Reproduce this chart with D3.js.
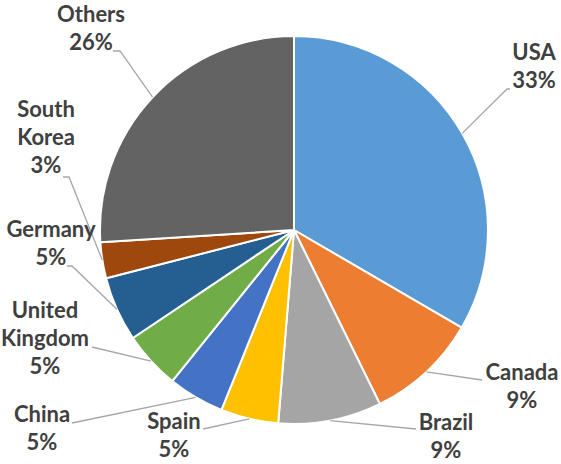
<!DOCTYPE html>
<html>
<head>
<meta charset="utf-8">
<script src="https://cdn.jsdelivr.net/npm/d3@7"></script>
<style>
  body { margin: 0; background: #fff; }
  text { font-family: Lato, "Open Sans", sans-serif; font-weight: bold; }
</style>
</head>
<body>
<div id="chart"></div>
<script>
let w = 561;
let h = 464;

// shares (percent)
const countries = ["USA", "Canada", "Brazil", "Spain", "China", "United Kingdom", "Germany", "South Korea", "Others"];
const shares = [33.4, 9.3, 8.6, 4.8, 4.7, 4.8, 5.4, 3.0, 26.0];
const colors = ["#5B9BD5", "#ED7D31", "#A5A5A5", "#FFC000", "#4472C4", "#70AD47", "#255E91", "#9E480E", "#636363"];

// where Excel put the labels: text centre, first baseline, leader points near text
const labelPos = [
    {x: 534, y: 60, lead: [[510, 89], [507, 89]]},
    {x: 522, y: 380, lead: [[482, 380]]},
    {x: 446, y: 430, lead: [[416, 429]]},
    {x: 174, y: 429, lead: [[203, 429]]},
    {x: 42, y: 422, lead: [[72, 423]]},
    {x: 45, y: 318, lead: [[92, 347]]},
    {x: 51, y: 237, lead: [[67, 266], [72, 266]]},
    {x: 46, y: 117, lead: [[63, 177], [69, 177]]},
    {x: 91, y: 22, lead: [[113, 51], [120, 51]]}
];

let cx = 294, cy = 230, r = 194;
let lineH = 28;

let svg = d3.select("#chart")
    .append("svg")
    .attr("width", w)
    .attr("height", h);

let data = countries.map((c, i) => ({name: c, value: shares[i], color: colors[i], pos: labelPos[i]}));

let pie = d3.pie().sort(null).value(d => d.value);
let arc = d3.arc().innerRadius(0).outerRadius(r);
let arcs = pie(data);

const g = svg.append("g").attr("transform", `translate(${cx},${cy})`);

g.selectAll("path")
    .data(arcs)
    .enter()
    .append("path")
    .attr("d", arc)
    .attr("fill", d => d.data.color)
    .attr("stroke", "#fff")
    .attr("stroke-width", 2)
    .attr("stroke-linejoin", "round");

// leader lines: from slice edge (mid angle) to the label
let line = d3.line();
svg.selectAll("path.leader")
    .data(arcs)
    .enter()
    .append("path")
    .attr("class", "leader")
    .attr("d", d => {
        let a = (d.startAngle + d.endAngle) / 2;
        let p0 = [cx + r * Math.sin(a), cy - r * Math.cos(a)];
        return line([p0].concat(d.data.pos.lead.slice().reverse()));
    })
    .attr("fill", "none")
    .attr("stroke", "#A6A6A6")
    .attr("stroke-width", 1.3);

// labels
let total = d3.sum(shares);
let labels = svg.selectAll("text.lbl")
    .data(data)
    .enter()
    .append("text")
    .attr("class", "lbl")
    .attr("text-anchor", "middle")
    .attr("fill", "#404040")
    .attr("font-size", "22px");

labels.each(function(d) {
    let rows = d.name.split(" ");
    rows.push(Math.round(d.value / total * 100) + "%");
    d3.select(this).selectAll("tspan")
        .data(rows)
        .enter()
        .append("tspan")
        .attr("x", d.pos.x)
        .attr("y", (t, i) => d.pos.y + i * lineH)
        .text(t => t);
});
</script>
</body>
</html>
